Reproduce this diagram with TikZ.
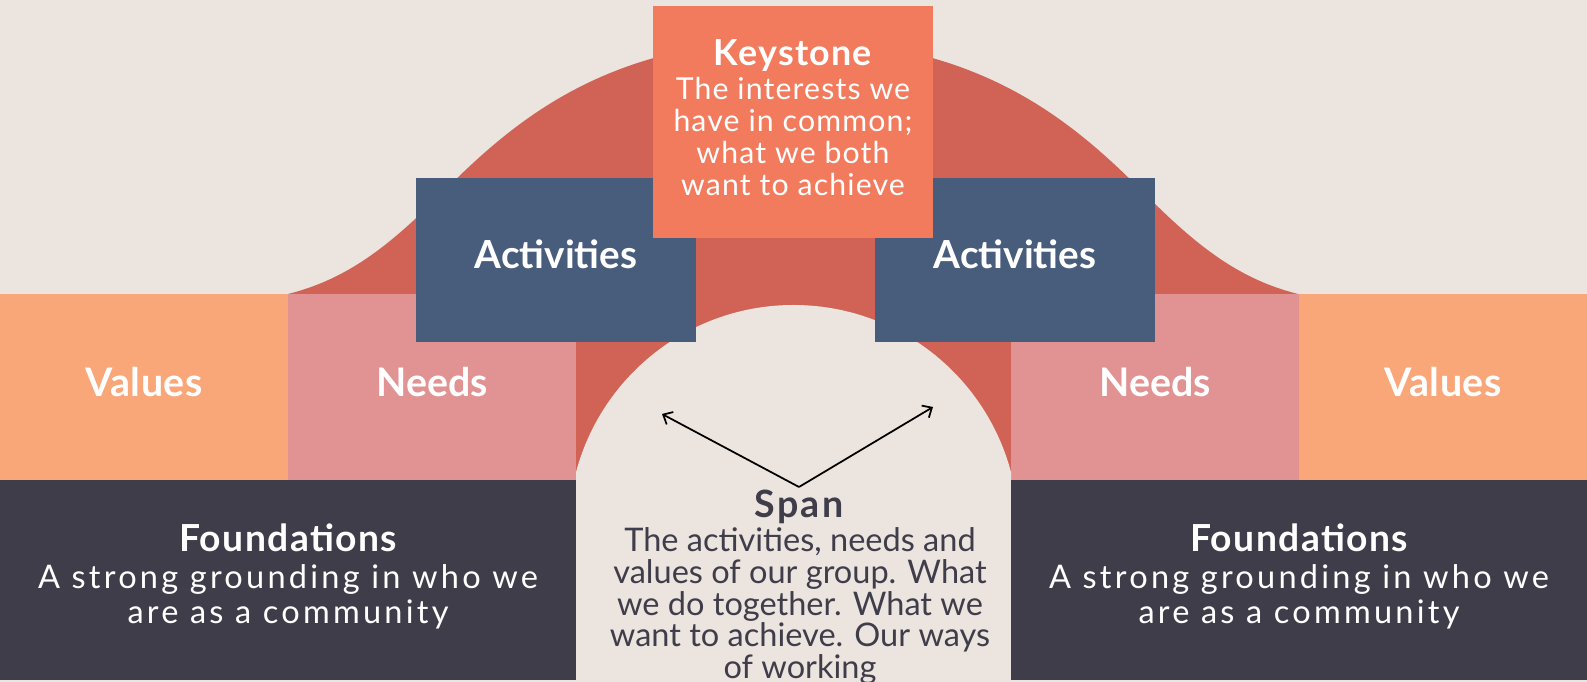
\documentclass[tikz,border=0pt]{standalone}
\usepackage{fontspec}
\setmainfont{Lato}
\usetikzlibrary{arrows.meta}
\definecolor{bg}{HTML}{ECE4DF}
\definecolor{archred}{HTML}{D16356}
\definecolor{keyc}{HTML}{F27B5D}
\definecolor{actc}{HTML}{485C7C}
\definecolor{valc}{HTML}{F9A679}
\definecolor{needc}{HTML}{E19393}
\definecolor{foundc}{HTML}{403D4A}
\newcommand\mlines[1]{\vtop{\lineskiplimit=-100pt\lineskip=0pt\halign{\hfil##\hfil\cr#1\crcr}}}
\tikzset{
  box/.style={inner sep=0pt, outer sep=0pt, draw=none},
  ttl/.style={anchor=base, inner sep=0pt, text=white, font=\bfseries\fontsize{11.2}{12}\selectfont},
  body/.style={anchor=base, inner sep=0pt, text=white, font=\fontsize{9.25}{9.02}\selectfont},
  spanarrow/.style={line width=0.5pt, -{Straight Barb[length=2.2pt,width=4pt]}}
}
\begin{document}
\begin{tikzpicture}[x=0.1mm,y=-0.1mm]
\useasboundingbox (0,0) rectangle (1587,682);
\fill[bg] (0,0) rectangle (1587,682);
% arch
\fill[archred] (288,294) .. controls (348,279) and (390,245) .. (440,195)
  .. controls (510,125) and (603,40) .. (793,40)
  .. controls (983,40) and (1076,125) .. (1146,195)
  .. controls (1196,245) and (1238,279) .. (1298,294)
  -- (1298,480) -- (288,480) -- cycle;
% side blocks
\path[box, fill=valc]  (0,294) rectangle (288,480) node[midway] (valL) {};
\path[box, fill=needc] (288,294) rectangle (576,480) node[midway] (needL) {};
\path[box, fill=needc] (1011,294) rectangle (1299,480) node[midway] (needR) {};
\path[box, fill=valc]  (1299,294) rectangle (1587,480) node[midway] (valR) {};
% span opening
\begin{scope}
  \clip (576,0) rectangle (1011,682);
  \fill[bg] (793.5,530) circle[radius=225];
\end{scope}
\fill[bg] (576,480) rectangle (1011,682);
% foundations
\path[box, fill=foundc] (0,480) rectangle (576,680) node[midway] (foundL) {};
\path[box, fill=foundc] (1011,480) rectangle (1587,680) node[midway] (foundR) {};
% activities and keystone
\path[box, fill=actc] (416,178) rectangle (696,342) node[midway] (actL) {};
\path[box, fill=actc] (875,178) rectangle (1155,342) node[midway] (actR) {};
\path[box, fill=keyc] (653,6) rectangle (933,238) node[midway] (key) {};
% texts
\node[ttl, font=\bfseries\fontsize{10.2}{11}\selectfont\addfontfeature{LetterSpace=3.5}] (keyT) at (793,65.7) {Keystone};
\node[body, font=\fontsize{8.6}{9.02}\selectfont\addfontfeature{LetterSpace=3.8}] (keyB) at (793,100) {\mlines{The interests we\cr have in common;\cr what we both\cr want to achieve}};
\node[ttl, font=\bfseries\fontsize{11}{12}\selectfont] (actLT) at (556,268.3) {Activities};
\node[ttl, font=\bfseries\fontsize{11}{12}\selectfont] (actRT) at (1015,268.3) {Activities};
\node[ttl, font=\bfseries\fontsize{11.2}{12}\selectfont\addfontfeature{LetterSpace=1.5}] (valLT) at (144,396.7) {Values};
\node[ttl] (needLT) at (432,396.7) {Needs};
\node[ttl] (needRT) at (1155,396.7) {Needs};
\node[ttl, font=\bfseries\fontsize{11.2}{12}\selectfont\addfontfeature{LetterSpace=1.5}] (valRT) at (1443,396.7) {Values};
\node[ttl, font=\bfseries\fontsize{10.6}{11}\selectfont\addfontfeature{LetterSpace=3.7}] (foundLT) at (288,551.7) {Foundations};
\node[body, font=\fontsize{9.25}{9.96}\selectfont\addfontfeature{LetterSpace=10}] (foundLB) at (288,588.3) {\mlines{A strong grounding in who we\cr are as a community}};
\node[ttl, font=\bfseries\fontsize{10.6}{11}\selectfont\addfontfeature{LetterSpace=3.7}] (foundRT) at (1299,551.7) {Foundations};
\node[body, font=\fontsize{9.25}{9.96}\selectfont\addfontfeature{LetterSpace=10}] (foundRB) at (1299,588.3) {\mlines{A strong grounding in who we\cr are as a community}};
\node[ttl, text=foundc, font=\bfseries\fontsize{10.7}{11}\selectfont\addfontfeature{LetterSpace=6}] (spanT) at (799,517.3) {Span};
\node[body, text=foundc] (spanB) at (800,551.7) {\mlines{The activities, needs and\cr values of our group. What\cr we do together. What we\cr want to achieve. Our ways\cr of working}};
% arrows
\coordinate (apex) at (799,487);
\coordinate (tipL) at (662,414);
\coordinate (tipR) at (933,407);
\draw[spanarrow] (apex) -- (tipL);
\draw[spanarrow] (apex) -- (tipR);
\end{tikzpicture}
\end{document}
